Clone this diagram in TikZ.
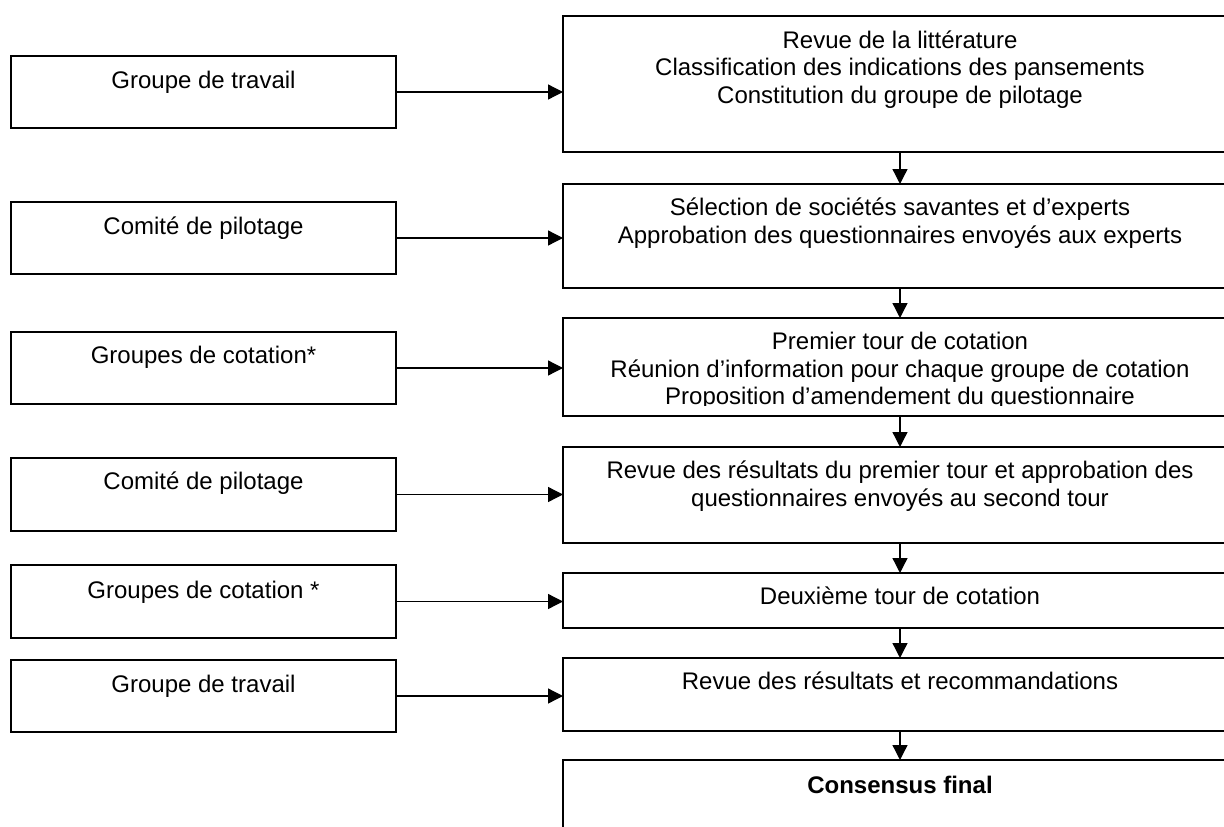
\documentclass[tikz,border=0pt]{standalone}
\usepackage{fontspec}
\setmainfont{Liberation Sans}
\usetikzlibrary{arrows.meta}
\tikzset{
  x=1pt, y=-1pt,
  boxbase/.style={draw=black, line width=1.5pt, fill=white, inner sep=0pt, outer sep=0pt},
  lbox/.style={boxbase, minimum width=385pt},
  rbox/.style={boxbase, minimum width=674pt},
  txt/.style={anchor=north, inner sep=0pt, align=center, font=\fontsize{24}{27.5}\selectfont},
  arr/.style={line width=1.3pt, -{Triangle[length=15pt, width=15pt]}}
}
\begin{document}
\begin{tikzpicture}
\clip (0,0) rectangle (1224,827);
\fill[white] (0,0) rectangle (1224,827);
% left boxes
\node[lbox, minimum height=72pt] (l1) at (203.5,92) {};
\node[lbox, minimum height=72pt] (l2) at (203.5,238) {};
\node[lbox, minimum height=72pt] (l3) at (203.5,368) {};
\node[lbox, minimum height=73pt] (l4) at (203.5,494.5) {};
\node[lbox, minimum height=73pt] (l5) at (203.5,601.5) {};
\node[lbox, minimum height=72pt] (l6) at (203.5,696) {};
% right boxes
\node[rbox, minimum height=136pt] (r1) at (900,84) {};
\node[rbox, minimum height=104pt] (r2) at (900,236) {};
\node[rbox, minimum height=98pt] (r3) at (900,367) {};
\node[rbox, minimum height=96pt] (r4) at (900,495) {};
\node[rbox, minimum height=55pt] (r5) at (900,600.5) {};
\node[rbox, minimum height=73pt] (r6) at (900,694.5) {};
\node[rbox, minimum height=90pt] (r7) at (900,805) {};
% left texts
\node[txt] (l1t) at (203.5,68.75) {\strut Groupe de travail};
\node[txt] (l2t) at (203.5,214.75) {\strut Comité de pilotage};
\node[txt] (l3t) at (203.5,344.25) {\strut Groupes de cotation*};
\node[txt] (l4t) at (203.5,470.25) {\strut Comité de pilotage};
\node[txt] (l5t) at (203.5,578.75) {\strut Groupes de cotation *};
\node[txt] (l6t) at (203.5,672.75) {\strut Groupe de travail};
% right texts
\node[txt] (r1t) at (900,28.75) {\strut Revue de la littérature\\Classification des indications des pansements\\Constitution du groupe de pilotage};
\node[txt] (r2t) at (900,196.25) {\strut Sélection de sociétés savantes et d’experts\\Approbation des questionnaires envoyés aux experts};
\begin{scope}
\clip (560,318) rectangle (1240,405);
\node[txt] (r3t) at (900,330.25) {\strut Premier tour de cotation\\Réunion d’information pour chaque groupe de cotation\\Proposition d’amendement du questionnaire};
\end{scope}
\node[txt] (r4t) at (900,459.25) {\strut Revue des résultats du premier tour et approbation des\\questionnaires envoyés au second tour};
\node[txt] (r5t) at (900,585.25) {\strut Deuxième tour de cotation};
\node[txt] (r6t) at (900,670.25) {\strut Revue des résultats et recommandations};
\node[txt] (r7t) at (900,773.75) {\strut\textbf{Consensus final}};
% horizontal arrows
\foreach \i in {1,...,6} {
  \draw[arr] (l\i.east) -- (l\i.east -| r\i.west);
}
% vertical arrows
\draw[arr] (r1.south) -- (r2.north);
\draw[arr] (r2.south) -- (r3.north);
\draw[arr] (r3.south) -- (r4.north);
\draw[arr] (r4.south) -- (r5.north);
\draw[arr] (r5.south) -- (r6.north);
\draw[arr] (r6.south) -- (r7.north);
\end{tikzpicture}
\end{document}
